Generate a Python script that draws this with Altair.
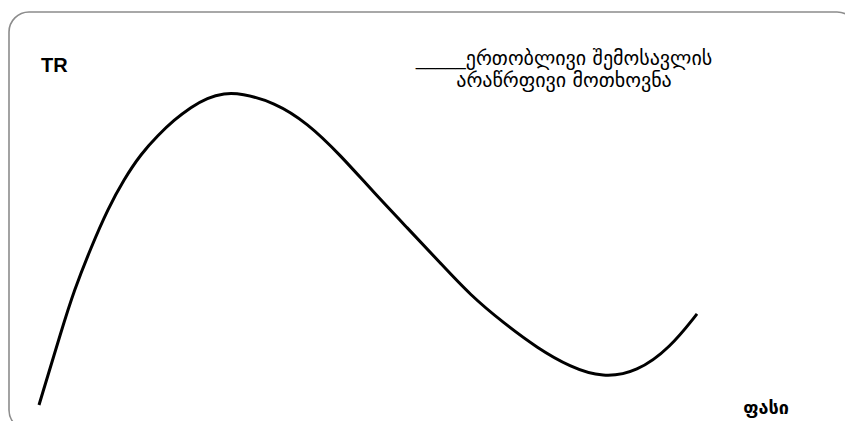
import altair as alt
import pandas as pd

# Quantity (horizontal) and total revenue (vertical)
quantity = [0.0, 0.35, 0.53, 0.79, 1.05, 1.29, 1.55, 1.81, 2.05, 2.31, 2.56,
            2.81, 3.07, 3.57, 4.08, 4.58, 5.08, 5.60, 6.10, 6.55, 7.06,
            7.57, 8.07, 8.57, 9.09, 9.59, 10.0]
revenue = [0.0, 24.5, 36.5, 50.5, 63.0, 72.3, 80.5, 86.5, 91.3, 95.5, 98.5,
           99.9, 99.9, 97.1, 90.4, 80.1, 68.3, 56.7, 45.5, 35.3, 26.3,
           18.3, 12.2, 8.7, 10.6, 18.3, 29.2]

y_label = "TR"
x_label = "ფასი"
legend_lines = ["_____ერთობლივი შემოსავლის", "არაწრფივი მოთხოვნა"]

df = pd.DataFrame({"q": quantity, "tr": revenue})
one = alt.Data(values=[{}])

W, H = 837, 413

frame = alt.Chart(one).mark_rect(
    fillOpacity=0, stroke="#8c8c8c", strokeWidth=1.6, cornerRadius=20
).encode(x=alt.value(1), x2=alt.value(849), y=alt.value(4), y2=alt.value(422))

curve = alt.Chart(df).mark_line(
    color="black", strokeWidth=3, interpolate="basis"
).encode(
    x=alt.X("q:Q", axis=None, scale=alt.Scale(domain=[0, 10], range=[31, 689])),
    y=alt.Y("tr:Q", axis=None, scale=alt.Scale(domain=[0, 100], range=[397, 85])),
)

tr_text = alt.Chart(one).mark_text(
    text=y_label, font="Liberation Sans", fontWeight="bold", fontSize=20,
    align="left", baseline="alphabetic", color="black"
).encode(x=alt.value(33), y=alt.value(64))

price_text = alt.Chart(one).mark_text(
    text=x_label, font="DejaVu Sans", fontWeight="bold", fontSize=18,
    align="center", baseline="alphabetic", color="black"
).encode(x=alt.value(758), y=alt.value(406))

legend1 = alt.Chart(one).mark_text(
    text=legend_lines[0], font="DejaVu Sans", fontSize=20,
    align="center", baseline="alphabetic", color="black"
).encode(x=alt.value(556), y=alt.value(57))

legend2 = alt.Chart(one).mark_text(
    text=legend_lines[1], font="DejaVu Sans", fontSize=20,
    align="center", baseline="alphabetic", color="black"
).encode(x=alt.value(556), y=alt.value(79))

chart = alt.layer(frame, curve, tr_text, price_text, legend1, legend2).properties(
    width=W, height=H, autosize=alt.AutoSizeParams(type="none"), padding=0,
    background="white"
).configure_view(stroke=None)

chart.save("out.html", embed_options={"renderer": "svg", "actions": False})
